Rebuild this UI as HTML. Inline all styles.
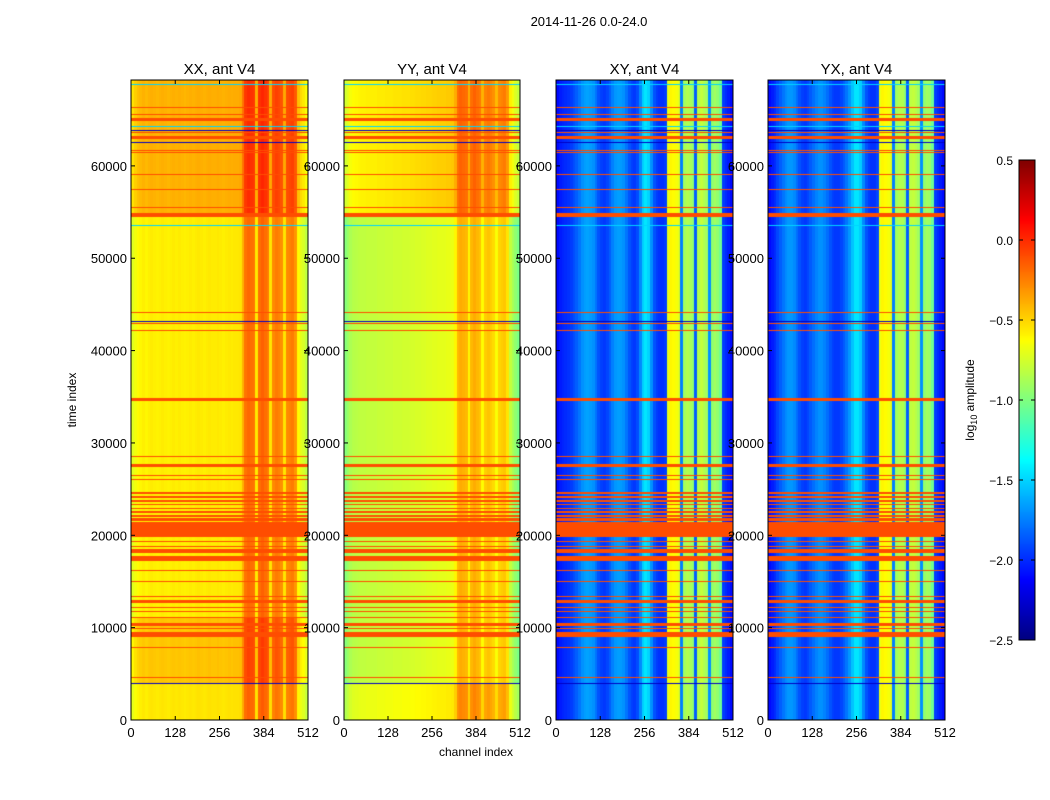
<!DOCTYPE html>
<html><head><meta charset="utf-8">
<style>
body{margin:0;background:#fff;width:1050px;height:800px;overflow:hidden;position:relative;font-family:"Liberation Sans",sans-serif}
canvas{position:absolute}
svg{position:absolute;left:0;top:0}
</style></head>
<body>
<canvas id="c0" width="177" height="640" style="left:131px;top:80px"></canvas>
<canvas id="c1" width="176" height="640" style="left:344px;top:80px"></canvas>
<canvas id="c2" width="177" height="640" style="left:556px;top:80px"></canvas>
<canvas id="c3" width="177" height="640" style="left:768px;top:80px"></canvas>
<canvas id="cb" width="16" height="480" style="left:1019px;top:160px"></canvas>
<svg id="ov" width="1050" height="800"></svg>
<script>
const panelTitles = ["XX, ant V4","YY, ant V4","XY, ant V4","YX, ant V4"];
const xTicks = [0,128,256,384,512];
const yTicks = [0,10000,20000,30000,40000,50000,60000];
const cbTicks = [0.5,0.0,-0.5,-1.0,-1.5,-2.0,-2.5];
const cbLabels = ["0.5","0.0","\u22120.5","\u22121.0","\u22121.5","\u22122.0","\u22122.5"];
const tMax = 69300, chMax = 512, vmin = -2.5, vmax = 0.5;
const xxProfile = [-0.72,-0.66,-0.62,-0.6,-0.58,-0.6,-0.58,-0.57,-0.58,-0.59,-0.58,-0.57,-0.58,-0.59,-0.58,-0.57,-0.58,-0.57,-0.58,-0.59,-0.58,-0.57,-0.58,-0.57,-0.56,-0.57,-0.58,-0.57,-0.56,-0.57,-0.57,-0.56,-0.57,-0.58,-0.57,-0.56,-0.57,-0.56,-0.56,-0.55,
 -0.4,-0.22,-0.18,-0.2,-0.22,-0.56,-0.2,-0.16,-0.2,-0.24,-0.55,-0.28,-0.24,-0.26,-0.3,-0.55,-0.28,-0.26,-0.24,-0.32,-0.62,-0.7,-0.74,-0.82];
const yyProfile = [-0.98,-0.92,-0.87,-0.84,-0.83,-0.82,-0.81,-0.81,-0.8,-0.8,-0.8,-0.8,-0.79,-0.79,-0.79,-0.78,-0.78,-0.78,-0.77,-0.77,-0.77,-0.76,-0.76,-0.76,-0.75,-0.75,-0.74,-0.74,-0.73,-0.73,-0.72,-0.72,-0.71,-0.71,-0.7,-0.7,-0.7,-0.69,-0.69,-0.68,
 -0.6,-0.42,-0.38,-0.4,-0.42,-0.6,-0.42,-0.38,-0.42,-0.45,-0.62,-0.48,-0.45,-0.48,-0.52,-0.64,-0.5,-0.48,-0.46,-0.55,-0.8,-0.88,-0.95,-1.02];
const xyProfile = [-2.1,-2.05,-2.02,-2.0,-1.98,-1.95,-1.9,-1.85,-1.78,-1.7,-1.66,-1.65,-1.67,-1.7,-1.78,-1.88,-1.94,-1.96,-1.92,-1.85,-1.75,-1.68,-1.66,-1.67,-1.7,-1.78,-1.88,-1.94,-1.96,-1.9,-1.72,-1.52,-1.45,-1.5,-1.7,-1.88,-1.95,-1.98,-1.98,-1.95,
 -0.7,-0.6,-0.62,-0.65,-0.7,-1.75,-0.9,-0.85,-0.88,-0.95,-1.85,-0.85,-0.8,-0.85,-0.9,-1.7,-0.95,-0.9,-0.95,-1.05,-1.95,-2.0,-2.05,-2.1];
const yxProfile = [-2.1,-2.05,-2.0,-1.92,-1.85,-1.78,-1.72,-1.68,-1.68,-1.72,-1.8,-1.88,-1.94,-1.96,-1.92,-1.86,-1.8,-1.74,-1.7,-1.7,-1.74,-1.8,-1.88,-1.94,-1.96,-1.96,-1.92,-1.86,-1.78,-1.68,-1.55,-1.45,-1.45,-1.52,-1.72,-1.88,-1.95,-1.98,-1.98,-1.92,
 -0.68,-0.6,-0.62,-0.65,-0.7,-1.75,-0.9,-0.85,-0.86,-0.95,-1.85,-0.82,-0.8,-0.84,-0.9,-1.7,-0.95,-0.9,-0.92,-1.05,-1.95,-2.0,-2.05,-2.1];
const segStarts = [0,4000,11000,54690];
const xxSegOffset = [0.02,0.12,0.0,0.18];
const yySegOffset = [0.12,0.0,0.0,0.22];
const xySegOffset = [0,0,0,0];
const yxSegOffset = [0,0,0,0];
const flagTimes = [68770,66280,65520,64980,64220,63790,63570,63030,62490,61620,61400,59020,57400,55450,54690,53500,44080,43100,42890,42130,34660,28480,27510,26430,25990,24580,24100,23700,23300,22900,22500,22100,21700,21300,20900,20600,20300,20000,19280,18840,18300,17650,17330,16140,14950,13320,12780,12130,11700,11150,10290,9855,9310,8990,7900,4550,4000];
const flagValues = [-1.5,-0.1,-0.1,-0.1,-1.5,-2.3,-0.1,-0.1,-2.3,-0.1,-0.1,-0.1,-0.1,-0.1,-0.1,-1.5,-0.1,-2.3,-0.1,-0.1,-0.1,-0.1,-0.1,-0.1,-0.1,-0.1,-0.1,-0.1,-0.1,-0.1,-0.1,-0.1,-0.1,-0.1,-0.1,-0.1,-0.1,-0.1,-0.1,-0.1,-0.1,-0.1,-0.1,-0.1,-0.1,-0.1,-0.1,-0.1,-0.1,-0.1,-0.1,-0.1,-0.1,-0.1,-0.1,-0.1,-2.3];
const flagWidths = [110,110,110,330,110,110,110,330,110,110,110,110,110,110,430,110,110,110,110,110,330,110,330,110,110,110,220,220,110,110,220,220,330,330,330,330,330,330,110,110,330,110,330,110,110,110,330,110,110,110,330,110,330,110,110,110,110];

function jet(v){
  let x=(v-vmin)/(vmax-vmin); x=Math.max(0,Math.min(1,x));
  const c=t=>Math.round(255*Math.max(0,Math.min(1,1.5-Math.abs(4*x-t))));
  return [c(3),c(2),c(1)];
}
function xScale(ch,w){return ch/chMax*w;}
function yScale(t){return 640-t/tMax*640;}

const profiles=[xxProfile,yyProfile,xyProfile,yxProfile];
const offsets=[xxSegOffset,yySegOffset,xySegOffset,yxSegOffset];
for(let p=0;p<4;p++){
  const cv=document.getElementById('c'+p), ctx=cv.getContext('2d');
  const w=cv.width,h=cv.height, img=ctx.createImageData(w,h);
  const prof=profiles[p], off=offsets[p], nb=prof.length;
  for(let py=0;py<h;py++){
    const t=(h-py-0.5)/h*tMax;
    let seg=0; for(let s=0;s<segStarts.length;s++) if(t>=segStarts[s]) seg=s;
    let flag=null;
    for(let f=0;f<flagTimes.length;f++) if(Math.abs(t-flagTimes[f])<=flagWidths[f]/2) flag=flagValues[f];
    for(let px=0;px<w;px++){
      const ch=(px+0.5)/w*chMax, b=Math.min(nb-1,Math.floor(ch/chMax*nb));
      const v = flag!==null ? flag : prof[b]+off[seg];
      const c=jet(v), i=(py*w+px)*4;
      img.data[i]=c[0];img.data[i+1]=c[1];img.data[i+2]=c[2];img.data[i+3]=255;
    }
  }
  ctx.putImageData(img,0,0);
}
{
  const cv=document.getElementById('cb'),ctx=cv.getContext('2d');
  for(let py=0;py<480;py++){const v=vmax-(py+0.5)/480*(vmax-vmin);const c=jet(v);ctx.fillStyle=`rgb(${c[0]},${c[1]},${c[2]})`;ctx.fillRect(0,py,16,1);}
}
const NS="http://www.w3.org/2000/svg", ov=document.getElementById('ov');
function el(tag,attrs,parent){const e=document.createElementNS(NS,tag);for(const k in attrs)e.setAttribute(k,attrs[k]);(parent||ov).appendChild(e);return e;}
function txt(s,attrs){const e=el('text',Object.assign({'font-family':'Liberation Sans, sans-serif','fill':'#000'},attrs));e.textContent=s;return e;}
const lefts=[131,344,556,768], widths=[177,176,177,177];
const tn = txt("2014-11-26 0.0-24.0",{x:589,y:26,'font-size':13,'text-anchor':'middle'});


for(let p=0;p<4;p++){
  const L=lefts[p],W=widths[p],T=80,H=640;
  const g=el('g',{});
  
  
  el('rect',{x:L,y:T,width:W,height:H,fill:'none',stroke:'#000','stroke-width':1},g);
  const ti=txt(panelTitles[p],{x:L+W/2,y:74,'font-size':15,'text-anchor':'middle'});
  
  
  xTicks.forEach(v=>{
    const x=L+xScale(v,W);
    el('line',{x1:x,y1:T+H,x2:x,y2:T+H-4,stroke:'#000'},g);
    el('line',{x1:x,y1:T,x2:x,y2:T+4,stroke:'#000'},g);
    const t=txt(String(v),{x:x,y:737,'font-size':13,'text-anchor':'middle'});
    
    
  });
  yTicks.forEach(v=>{
    const y=T+yScale(v);
    el('line',{x1:L,y1:y,x2:L+4,y2:y,stroke:'#000'},g);
    el('line',{x1:L+W,y1:y,x2:L+W-4,y2:y,stroke:'#000'},g);
    const t=txt(String(v),{x:L-4,y:y+5,'font-size':13,'text-anchor':'end'});
    
    
  });
}
const yl=txt("time index",{x:0,y:0,'font-size':12,'text-anchor':'middle',transform:'translate(76,400) rotate(-90)'});


const xl=txt("channel index",{x:476,y:756,'font-size':12,'text-anchor':'middle'});


el('rect',{x:1019,y:160,width:16,height:480,fill:'none',stroke:'#000'});
cbTicks.forEach((v,i)=>{
  const y=160+(vmax-v)/(vmax-vmin)*480;
  el('line',{x1:1019,y1:y,x2:1023,y2:y,stroke:'#000'});
  el('line',{x1:1035,y1:y,x2:1031,y2:y,stroke:'#000'});
  const t=txt(cbLabels[i],{x:1013,y:y+5,'font-size':12,'text-anchor':'end'});
  
  
});
const cl=el('text',{x:0,y:0,'font-size':12,'text-anchor':'middle','font-family':'Liberation Sans, sans-serif',transform:'translate(974,400) rotate(-90)'});


cl.innerHTML='log<tspan font-size="9" dy="3">10</tspan><tspan dy="-3"> amplitude</tspan>';
</script>
</body></html>
